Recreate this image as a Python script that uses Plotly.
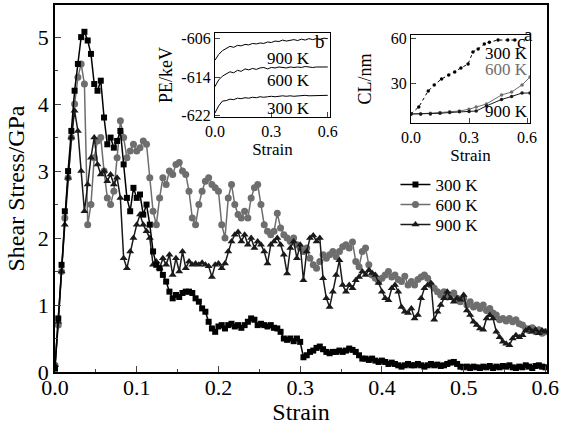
import plotly.graph_objects as go

# shear stress vs strain, sampled every 0.004 strain
strain = [round(0.004 * i, 3) for i in range(151)]

stress_300 = [0.05, 0.8, 1.6, 2.4, 3.0, 3.6, 4.2, 4.6, 5.0, 5.08,
              4.95, 4.75, 4.3, 4.2, 4.35, 3.8, 3.4, 3.5, 3.35, 3.45,
              3.6, 3.1, 2.6, 2.4, 2.75, 2.6, 2.65, 2.35, 2.5, 2.2,
              1.8, 1.6, 1.55, 1.45, 1.35, 1.2, 1.1, 1.15, 1.12, 1.18,
              1.2, 1.2, 1.18, 1.1, 1.05, 0.95, 0.9, 0.75, 0.65, 0.6,
              0.68, 0.7, 0.65, 0.7, 0.72, 0.68, 0.7, 0.66, 0.7, 0.75,
              0.8, 0.78, 0.7, 0.72, 0.7, 0.68, 0.7, 0.66, 0.65, 0.6,
              0.5, 0.48, 0.5, 0.46, 0.5, 0.45, 0.22, 0.25, 0.3, 0.32,
              0.36, 0.38, 0.34, 0.3, 0.28, 0.3, 0.3, 0.32, 0.3, 0.32,
              0.35, 0.33, 0.3, 0.25, 0.2, 0.2, 0.18, 0.2, 0.17, 0.15,
              0.17, 0.15, 0.12, 0.14, 0.12, 0.1, 0.08, 0.1, 0.12, 0.1,
              0.1, 0.12, 0.1, 0.08, 0.1, 0.12, 0.1, 0.11, 0.09, 0.1,
              0.12, 0.14, 0.15, 0.12, 0.08, 0.07, 0.08, 0.06, 0.08, 0.07,
              0.06, 0.08, 0.07, 0.09, 0.06, 0.08, 0.07, 0.09, 0.08, 0.1,
              0.07, 0.06, 0.08, 0.07, 0.1, 0.08, 0.06, 0.09, 0.1, 0.08,
              0.07]

stress_600 = [0.1, 0.7, 1.5, 2.3, 2.9, 3.5, 4.0, 4.4, 4.6, 4.3,
              2.2, 2.5, 3.2, 3.45, 3.5, 3.0, 2.6, 2.5, 2.7, 3.2,
              3.75, 3.5, 3.2, 3.3, 3.4, 3.3, 3.35, 3.45, 3.4, 2.9,
              2.4, 2.2, 2.6, 2.9, 2.8, 3.0, 2.95, 3.1, 3.13, 3.0,
              2.95, 2.7, 2.3, 2.2, 2.5, 2.7, 2.85, 2.9, 2.8, 2.75,
              2.7, 2.2, 2.0, 2.6, 2.8, 2.5, 2.35, 2.3, 2.4, 2.3,
              2.6, 2.75, 2.8, 2.5, 2.2, 2.1, 2.05, 2.1, 2.37, 2.15,
              2.05, 2.0, 1.95, 2.0, 1.9, 1.85, 1.8, 1.85, 1.7, 1.6,
              1.55, 1.65, 1.75, 1.7, 1.75, 1.8, 1.72, 1.8, 1.87, 1.9,
              1.85, 1.94, 1.65, 1.57, 1.8, 1.85, 1.6, 1.45, 1.4, 1.35,
              1.4, 1.45, 1.5, 1.42, 1.45, 1.38, 1.35, 1.43, 1.3, 1.35,
              1.3, 1.38, 1.42, 1.45, 1.4, 1.3, 1.25, 1.2, 1.15, 1.2,
              1.12, 1.15, 1.18, 1.1, 1.05, 1.1, 1.0, 1.05, 0.97, 1.0,
              0.95, 1.0, 0.92, 0.95, 0.88, 0.85, 0.78, 0.8, 0.76, 0.8,
              0.75, 0.78, 0.72, 0.7, 0.65, 0.62, 0.66, 0.6, 0.63, 0.58,
              0.6]

stress_900 = [0.1, 0.75, 1.5, 2.2, 2.9, 3.5, 3.9, 3.6, 3.0, 2.4,
              2.8, 3.2, 3.5, 3.1, 2.95, 3.0, 2.85, 2.95, 2.8, 2.9,
              2.6, 1.7, 1.55, 1.8, 2.0, 2.2, 2.35, 2.2, 2.1, 2.0,
              1.6, 1.65, 1.55, 1.7, 1.6, 1.75, 1.45, 1.7, 1.5, 1.8,
              1.55, 1.65, 1.6, 1.62, 1.6, 1.63, 1.6, 1.58, 1.42, 1.6,
              1.62, 1.55, 1.62, 1.8, 1.95, 2.05, 2.09, 1.95, 2.05, 1.9,
              2.0, 1.85, 1.95, 1.9, 1.8, 1.62, 1.9, 1.95, 2.0, 1.9,
              1.75, 1.47, 1.85, 1.95, 1.7, 1.9, 1.37, 1.8, 2.0, 2.04,
              1.95, 2.0, 1.4, 1.1, 0.97, 1.2, 1.45, 1.67, 1.3, 1.2,
              1.3, 1.25, 1.37, 1.42, 1.5, 1.45, 1.52, 1.48, 1.45, 1.33,
              1.2, 1.1, 1.07, 1.25, 1.3, 1.2, 0.97, 0.9, 0.88, 0.95,
              0.8, 0.85, 1.1, 1.25, 1.3, 1.33, 0.78, 0.9, 1.0, 1.1,
              1.2, 1.1, 1.05, 1.1, 1.08, 1.15, 0.92, 0.85, 0.75, 0.7,
              0.65, 0.63, 0.8, 0.85, 0.8, 0.6, 0.52, 0.45, 0.42, 0.4,
              0.5, 0.55, 0.52, 0.55, 0.62, 0.65, 0.6, 0.63, 0.58, 0.62,
              0.6]

# inset b: potential energy
pe_strain = [round(0.02 * i, 2) for i in range(31)]
pe_900 = [-610.5, -609.3, -608.5, -608.0, -607.6, -607.8, -607.4, -607.5, -607.2, -607.3,
          -607.0, -607.1, -606.9, -607.0, -606.7, -606.8, -606.5, -606.6, -606.3, -606.5,
          -606.4, -606.2, -606.4, -606.1, -606.3, -606.0, -606.2, -606.0, -606.1, -605.9, -606.0]
pe_600 = [-616.0, -614.6, -613.8, -613.3, -612.9, -613.1, -612.6, -612.8, -612.3, -612.5,
          -612.2, -612.4, -612.1, -612.0, -612.3, -612.0, -612.1, -611.9, -612.0, -612.1,
          -611.9, -612.0, -611.9, -612.0, -611.8, -611.9, -612.0, -611.9, -611.9, -611.8, -611.9]
pe_300 = [-621.5, -620.0, -619.0, -618.9, -618.6, -618.7, -618.4, -618.5, -618.3, -618.4,
          -618.2, -618.3, -618.1, -618.2, -618.1, -618.0, -618.1, -618.0, -617.9, -618.0,
          -617.9, -618.0, -617.9, -617.9, -617.8, -617.9, -617.9, -617.8, -617.9, -617.8, -617.8]
pe_ticks = [-606, -614, -622]
pe_ticktext = ["-606", "-614", "-622"]

# inset c: CL
cl_strain_300 = [0.0, 0.04, 0.089, 0.12, 0.158, 0.195, 0.226, 0.258, 0.295, 0.32, 0.347, 0.379, 0.405, 0.45, 0.50, 0.537]
cl_300 = [9.3, 14, 24.7, 28.7, 32.7, 35.3, 37.3, 40, 42.7, 50.7, 52.7, 56, 57.3, 58.7, 58.7, 58.7]
cl_strain = [0.0, 0.05, 0.1, 0.15, 0.2, 0.25, 0.3, 0.337, 0.39, 0.468, 0.52, 0.574, 0.615]
cl_600 = [9.3, 9.3, 9.8, 10.3, 10.8, 11.3, 12.5, 14, 16, 22, 24, 28.7, 34]
cl_900 = [9.3, 9.3, 9.3, 9.8, 10.3, 10.8, 11, 11.3, 14.7, 19, 21, 23.3, 23.3]

assert len(stress_300) == len(stress_600) == len(stress_900) == len(strain)

BLACK = "#000000"
GRAY = "#6e6e6e"
DARK = "#1a1a1a"
FONT = "Liberation Serif"

fig = go.Figure()

# main curves (gray drawn first so the black ones sit on top); one legend each so the rows can sit closer
fig.add_trace(go.Scatter(x=strain, y=stress_600, mode="lines+markers", name="600 K", legend="legend2",
                         line=dict(color=GRAY, width=1.5),
                         marker=dict(symbol="circle", size=7, color=GRAY)))
fig.add_trace(go.Scatter(x=strain, y=stress_900, mode="lines+markers", name="900 K", legend="legend3",
                         line=dict(color=DARK, width=1.5),
                         marker=dict(symbol="triangle-up", size=7, color=DARK)))
fig.add_trace(go.Scatter(x=strain, y=stress_300, mode="lines+markers", name="300 K", legend="legend",
                         line=dict(color=BLACK, width=1.5),
                         marker=dict(symbol="square", size=6, color=BLACK)))

# inset b
for ys in (pe_900, pe_600, pe_300):
    fig.add_trace(go.Scatter(x=pe_strain, y=ys, mode="lines", xaxis="x2", yaxis="y2", showlegend=False,
                             line=dict(color=BLACK, width=1)))

# inset c
fig.add_trace(go.Scatter(x=cl_strain_300, y=cl_300, mode="lines+markers", xaxis="x3", yaxis="y3",
                         showlegend=False, line=dict(color=BLACK, width=1, dash="dot"),
                         marker=dict(size=3.5, color=BLACK)))
fig.add_trace(go.Scatter(x=cl_strain, y=cl_600, mode="lines+markers", xaxis="x3", yaxis="y3",
                         showlegend=False, line=dict(color=GRAY, width=1),
                         marker=dict(size=3.5, color=GRAY)))
fig.add_trace(go.Scatter(x=cl_strain, y=cl_900, mode="lines+markers", xaxis="x3", yaxis="y3",
                         showlegend=False, line=dict(color=DARK, width=1),
                         marker=dict(size=3.5, color=DARK)))

frame = dict(showline=True, mirror=True, linecolor="black", showgrid=False, zeroline=False,
             ticks="inside", automargin=False)
leg = dict(x=0.692, xanchor="left", yanchor="middle", bgcolor="rgba(0,0,0,0)", font=dict(size=17))

fig.update_layout(
    width=565, height=425,
    margin=dict(l=55, r=18, t=5, b=53),
    paper_bgcolor="white", plot_bgcolor="white",
    font=dict(family=FONT, color="black"),
    xaxis=dict(frame, range=[0, 0.602], tickvals=[0, 0.1, 0.2, 0.3, 0.4, 0.5, 0.6], tickformat=".1f",
               ticklen=6, linewidth=1.5, tickfont=dict(size=22), ticklabelstandoff=-5,
               minor=dict(ticks="inside", dtick=0.05, ticklen=3),
               title=dict(text="Strain", font=dict(size=24), standoff=3)),
    yaxis=dict(frame, range=[0, 5.48], dtick=1, ticklen=6, linewidth=1.5, tickfont=dict(size=22),
               minor=dict(ticks="inside", dtick=0.5, ticklen=3),
               title=dict(text="Shear Stress/GPa", font=dict(size=24), standoff=6)),
    xaxis2=dict(frame, domain=[0.325, 0.559], anchor="y2", range=[0, 0.612], tickvals=[0, 0.3, 0.6],
                tickformat=".1f", ticklen=5, linewidth=1, tickfont=dict(size=16),
                title=dict(text="Strain", font=dict(size=17), standoff=0)),
    yaxis2=dict(frame, domain=[0.695, 0.924], anchor="x2", range=[-622.3, -604.8],
                tickvals=pe_ticks, ticktext=pe_ticktext, ticklen=5, linewidth=1, tickfont=dict(size=16),
                title=dict(text="PE/keV", font=dict(size=18), standoff=4)),
    xaxis3=dict(frame, domain=[0.7236, 0.9654], anchor="y3", range=[0, 0.615], tickvals=[0, 0.3, 0.6],
                tickformat=".1f", ticklen=5, linewidth=1, tickfont=dict(size=16),
                title=dict(text="Strain", font=dict(size=17), standoff=0)),
    yaxis3=dict(frame, domain=[0.6785, 0.918], anchor="x3", range=[3.3, 62], tickvals=[30, 60],
                ticklen=5, linewidth=1, tickfont=dict(size=16),
                title=dict(text="CL/nm", font=dict(size=18), standoff=14)),
    legend=dict(leg, y=0.5095),
    legend2=dict(leg, y=0.455),
    legend3=dict(leg, y=0.4005),
)

notes = [
    dict(text="900 K", x=0.39, y=-610.1, xref="x2", yref="y2", color=BLACK, size=17),
    dict(text="600 K", x=0.39, y=-614.7, xref="x2", yref="y2", color=BLACK, size=17),
    dict(text="300 K", x=0.39, y=-620.5, xref="x2", yref="y2", color=BLACK, size=17),
    dict(text="b", x=0.56, y=-606.6, xref="x2", yref="y2", color=BLACK, size=19),
    dict(text="300 K", x=0.495, y=50, xref="x3", yref="y3", color=BLACK, size=17),
    dict(text="600 K", x=0.495, y=38.7, xref="x3", yref="y3", color=GRAY, size=17),
    dict(text="900 K", x=0.495, y=10.7, xref="x3", yref="y3", color=BLACK, size=17),
    dict(text="c", x=0.57, y=58, xref="x3", yref="y3", color=BLACK, size=19),
    dict(text="a", x=0.976, y=0.954, xref="paper", yref="paper", color=BLACK, size=19),
]
for n in notes:
    fig.add_annotation(text=n["text"], x=n["x"], y=n["y"], xref=n["xref"], yref=n["yref"],
                       showarrow=False, font=dict(family=FONT, size=n["size"], color=n["color"]))

# drop the page's default body margin so the figure sits at the window corner
fig.write_html("out.html", config={"displayModeBar": False},
               post_script="document.body.style.margin='0px';")
